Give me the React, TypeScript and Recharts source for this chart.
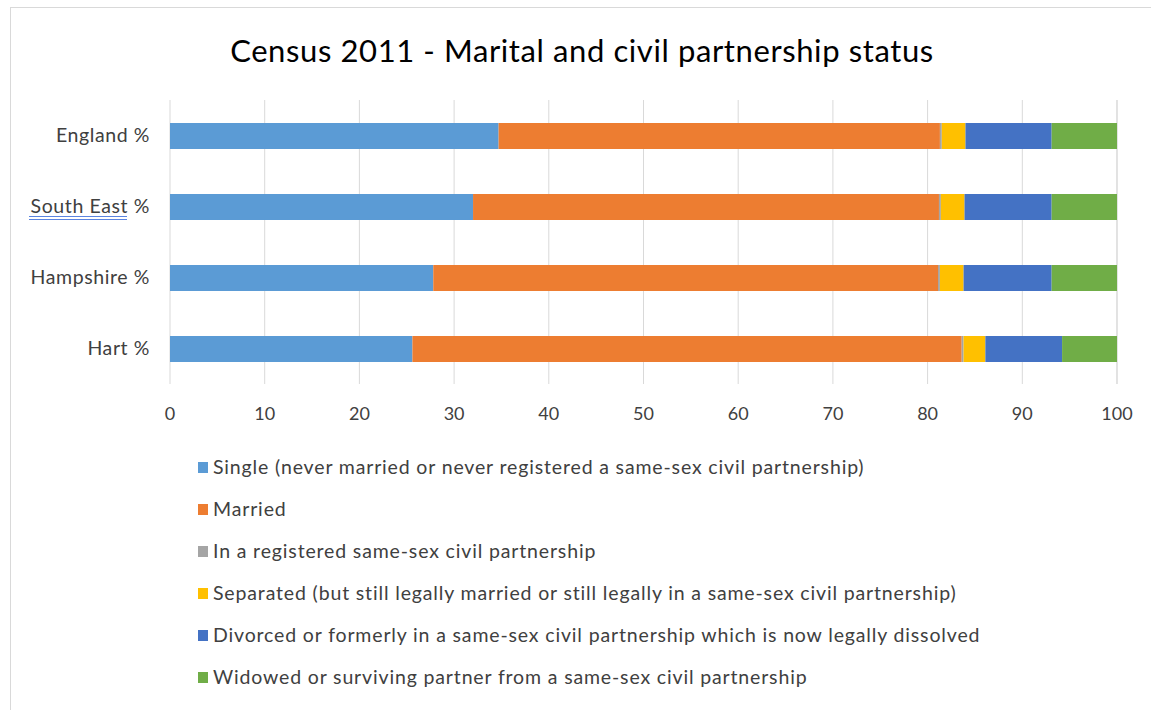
import React from 'react';
import { BarChart, Bar, XAxis, YAxis, CartesianGrid } from 'recharts';

const categories = ['England %', 'South East %', 'Hampshire %', 'Hart %'];
const single = [34.7, 32.0, 27.8, 25.6];
const married = [46.6, 49.2, 53.3, 58.0];
const civil = [0.2, 0.2, 0.2, 0.2];
const separated = [2.5, 2.5, 2.5, 2.3];
const divorced = [9.1, 9.2, 9.3, 8.1];
const widowed = [6.9, 6.9, 6.9, 5.8];
const xTicks = [0, 10, 20, 30, 40, 50, 60, 70, 80, 90, 100];

const seriesNames = [
  'Single (never married or never registered a same-sex civil partnership)',
  'Married',
  'In a registered same-sex civil partnership',
  'Separated (but still legally married or still legally in a same-sex civil partnership)',
  'Divorced or formerly in a same-sex civil partnership which is now legally dissolved',
  'Widowed or surviving partner from a same-sex civil partnership',
];
const seriesKeys = ['single', 'married', 'civil', 'separated', 'divorced', 'widowed'];
const seriesColors = ['#5B9BD5', '#ED7D31', '#A5A5A5', '#FFC000', '#4472C4', '#70AD47'];

const data = categories.map((c, i) => ({
  name: c,
  single: single[i],
  married: married[i],
  civil: civil[i],
  separated: separated[i],
  divorced: divorced[i],
  widowed: widowed[i],
}));

const FONT = 'Lato, sans-serif';

const YTick = (props: any) => {
  const { x, y, payload } = props;
  const label: string = payload.value;
  const isSE = label === 'South East %';
  return (
    <g>
      <text x={x} y={y} dy={6} textAnchor="end" fill="#404040" fontSize={19.5} letterSpacing={0.6} fontFamily={FONT}>
        {label}
      </text>
      {isSE && (
        <g>
          <line x1={x - 121} x2={x - 23} y1={y + 10} y2={y + 10} stroke="#5B84E0" strokeWidth={1.2} />
          <line x1={x - 121} x2={x - 23} y1={y + 13} y2={y + 13} stroke="#5B84E0" strokeWidth={1.2} />
        </g>
      )}
    </g>
  );
};

export default function App() {
  return (
    <div style={{ position: 'absolute', left: 0, top: 0, width: 1151, height: 710, background: '#fff', overflow: 'hidden' }}>
      <div style={{ position: 'absolute', left: 10, top: 7, width: 1160, height: 720, border: '1px solid #d9d9d9' }} />
      <div
        style={{
          position: 'absolute',
          left: 0,
          width: 1164,
          top: 31,
          textAlign: 'center',
          fontFamily: FONT,
          fontSize: 31,
          letterSpacing: 0.6,
          color: '#000',
        }}
      >
        Census 2011 - Marital and civil partnership status
      </div>
      <div style={{ position: 'absolute', left: 0, top: 0 }}>
        <BarChart
          width={1151}
          height={710}
          data={data}
          layout="vertical"
          margin={{ top: 100, right: 34, bottom: 276, left: 10 }}
          barSize={26}
        >
          <CartesianGrid horizontal={false} stroke="#d9d9d9" />
          <XAxis
            type="number"
            domain={[0, 100]}
            ticks={xTicks}
            axisLine={false}
            tickLine={false}
            height={50}
            tickMargin={17}
            tick={{ fill: '#404040', fontSize: 18, fontFamily: FONT }}
          />
          <YAxis
            type="category"
            dataKey="name"
            width={160}
            axisLine={false}
            tickLine={false}
            tick={<YTick />}
            tickMargin={14}
          />
          {seriesKeys.map((k, i) => (
            <Bar key={k} dataKey={k} name={seriesNames[i]} stackId="a" fill={seriesColors[i]} isAnimationActive={false} />
          ))}
        </BarChart>
      </div>
      <div style={{ position: 'absolute', left: 198, top: 445, fontFamily: FONT }}>
        {seriesNames.map((n, i) => (
          <div key={n} style={{ display: 'flex', alignItems: 'center', height: 42 }}>
            <div style={{ width: 10, height: 11, background: seriesColors[i], marginRight: 5, marginTop: 3 }} />
            <span style={{ fontSize: 19.5, letterSpacing: 0.85, color: '#404040', whiteSpace: 'nowrap' }}>{n}</span>
          </div>
        ))}
      </div>
    </div>
  );
}
